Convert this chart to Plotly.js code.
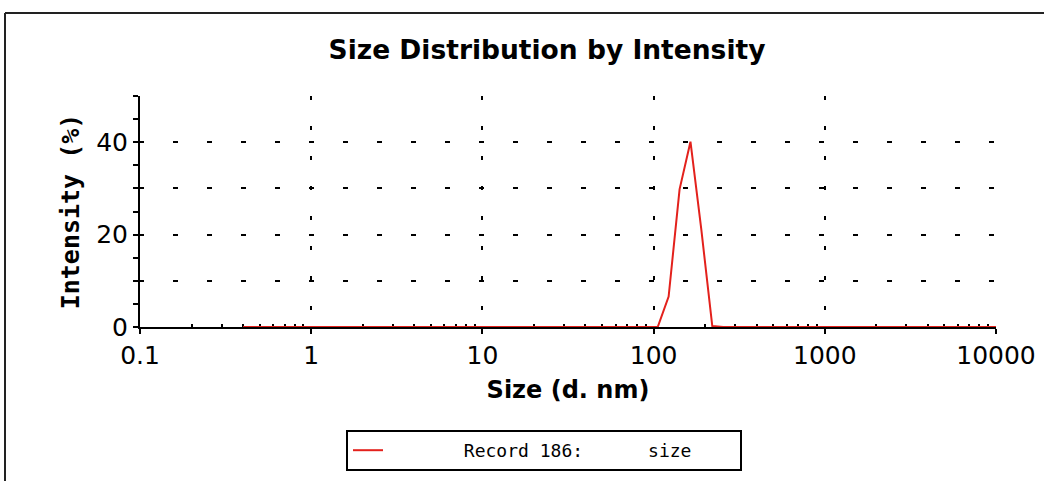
<!DOCTYPE html>
<html>
<head>
<meta charset="utf-8">
<script src="https://cdn.plot.ly/plotly-3.0.1.min.js"></script>
<style>
  html, body { margin: 0; padding: 0; background: #ffffff; }
  #chart { width: 1044px; height: 481px; }
</style>
</head>
<body>
<div id="chart"></div>
<script>
// Size classes (d. nm)
const sizes = [0.4, 0.4632, 0.5365, 0.6213, 0.7195, 0.8332, 0.9649, 1.117, 1.294, 1.499,
  1.736, 2.01, 2.328, 2.696, 3.122, 3.615, 4.187, 4.849, 5.615, 6.503,
  7.531, 8.721, 10.1, 11.7, 13.54, 15.69, 18.17, 21.04, 24.36, 28.21,
  32.67, 37.84, 43.82, 50.75, 58.77, 68.06, 78.82, 91.28, 105.7, 122.4,
  141.8, 164.2, 190.1, 220.2, 255, 295.3, 342, 396.1, 458.7, 531.2,
  615.1, 712.4, 825, 955.4, 1106, 1281, 1484, 1718, 1990, 2305,
  2669, 3091, 3580, 4145, 4801, 5560, 6439, 7456, 8635, 10000];

// Intensity (%) for each size class
const intensity = [0, 0, 0, 0, 0, 0, 0, 0, 0, 0,
  0, 0, 0, 0, 0, 0, 0, 0, 0, 0,
  0, 0, 0, 0, 0, 0, 0, 0, 0, 0,
  0, 0, 0, 0, 0, 0, 0, 0, 0, 6.6,
  29.8, 40.1, 21.0, 0.2, 0, 0, 0, 0, 0, 0,
  0, 0, 0, 0, 0, 0, 0, 0, 0, 0,
  0, 0, 0, 0, 0, 0, 0, 0, 0, 0];

const seriesName = "Record 186:";
const seriesSuffix = "size";

const xTickVals = [0.1, 1, 10, 100, 1000, 10000];
const xTickText = ["0.1", "1", "10", "100", "1000", "10000"];
const yTickVals = [0, 10, 20, 30, 40, 50];
const yTickText = ["0", "", "20", "", "40", ""];
const yMinorVals = [5, 15, 25, 35, 45];

// minor log ticks (2..9 in each decade)
const xMinorVals = [];
for (let d = -1; d < 4; d++) {
  for (let k = 2; k <= 9; k++) xMinorVals.push(k * Math.pow(10, d));
}

const NB = "\u00a0";
const legendName = NB.repeat(7) + seriesName + NB.repeat(6) + seriesSuffix + NB.repeat(4);

const W = 1044, H = 481;
const M = {l: 140, r: 48, t: 96, b: 154};
const pw = W - M.l - M.r, ph = H - M.t - M.b;
const px = v => (v - M.l) / pw;
const py = v => (H - M.b - v) / ph;

const trace = {
  x: sizes,
  y: intensity,
  type: "scatter",
  mode: "lines",
  name: legendName,
  line: {color: "#e3211c", width: 2},
  cliponaxis: false,
  hoverinfo: "x+y"
};

const tickFont = {family: "DejaVu Sans", size: 25, color: "#000"};

const layout = {
  width: W, height: H, autosize: false,
  margin: M,
  paper_bgcolor: "#ffffff",
  plot_bgcolor: "#ffffff",
  showlegend: true,
  title: {
    text: "Size Distribution by Intensity",
    font: {family: "DejaVu Sans", size: 26.5, color: "#000", weight: "bold"},
    xref: "container", x: 547 / W, xanchor: "center",
    yref: "container", y: 1 - 50 / H, yanchor: "middle"
  },
  xaxis: {
    type: "log",
    range: [-1, 4],
    tickmode: "array",
    tickvals: xTickVals,
    ticktext: xTickText,
    ticks: "outside", ticklen: 5, tickwidth: 2, tickcolor: "#000",
    tickfont: tickFont,
    showline: true, linecolor: "#000", linewidth: 2,
    showgrid: true, gridcolor: "#000", gridwidth: 2, griddash: "4px,26px",
    zeroline: false,
    layer: "below traces",
    minor: {tickmode: "array", tickvals: xMinorVals, ticks: "inside", ticklen: 3, tickwidth: 2, tickcolor: "#000", showgrid: false},
    title: {text: "Size (d. nm)", font: {family: "DejaVu Sans", size: 24, color: "#000", weight: "bold"}, standoff: 12}
  },
  yaxis: {
    range: [0, 50],
    tickmode: "array",
    tickvals: yTickVals,
    ticktext: yTickText,
    ticks: "outside", ticklen: 5, tickwidth: 2, tickcolor: "#000",
    tickfont: tickFont,
    showline: true, linecolor: "#000", linewidth: 2,
    showgrid: true, gridcolor: "#000", gridwidth: 2, griddash: "4px,29px,1px,0px",
    zeroline: false,
    layer: "below traces",
    minor: {tickmode: "array", tickvals: yMinorVals, ticks: "outside", ticklen: 5, tickwidth: 2, tickcolor: "#000", showgrid: false},
    title: {text: "Intensity (%)", font: {family: "DejaVu Sans Mono", size: 25, color: "#000", weight: "bold"}, standoff: 9}
  },
  legend: {
    orientation: "h",
    xref: "container", x: 346 / W, xanchor: "left",
    yref: "container", y: 1 - 430 / H, yanchor: "top",
    bgcolor: "#ffffff",
    bordercolor: "#000", borderwidth: 2,
    font: {family: "DejaVu Sans Mono", size: 18, color: "#000"}
  },
  shapes: [
    {type: "line", xref: "paper", yref: "paper", x0: px(5), x1: px(5), y0: py(13), y1: py(H + 10), line: {color: "#222", width: 2}},
    {type: "line", xref: "paper", yref: "paper", x0: px(5), x1: px(W + 10), y0: py(13), y1: py(13), line: {color: "#222", width: 2}}
  ]
};

Plotly.newPlot("chart", [trace], layout, {displayModeBar: false, staticPlot: true});
</script>
</body>
</html>
